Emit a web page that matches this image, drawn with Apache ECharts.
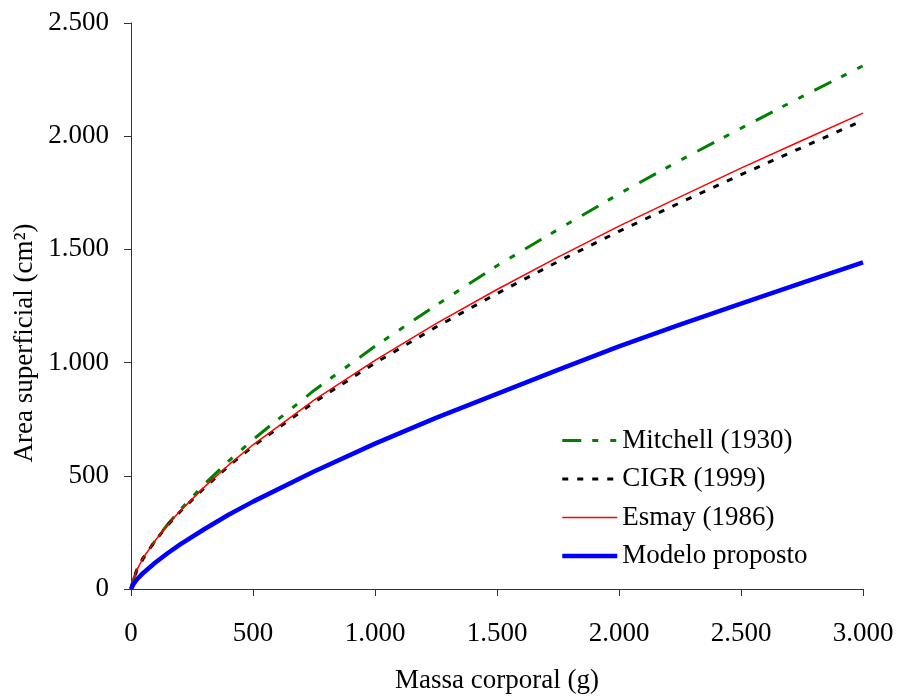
<!DOCTYPE html>
<html>
<head>
<meta charset="utf-8">
<script src="https://cdn.jsdelivr.net/npm/echarts@6/dist/echarts.min.js"></script>
<style>
html,body{margin:0;padding:0;background:#fff;}
#chart{width:900px;height:699px;}
</style>
</head>
<body>
<div id="chart"></div>
<script>
// Body mass (g)
const mass = [0, 10, 25, 50, 100, 150, 200, 300, 400, 500, 750, 1000, 1250, 1500, 1750, 2000, 2250, 2500, 2750, 3000];
// Surface area (cm²)
const mitchell = [0, 42, 82, 133, 215, 285, 348, 462, 565, 660, 877, 1072, 1253, 1428, 1588, 1745, 1893, 2035, 2175, 2311];
const cigr     = [0, 46, 87, 138, 214, 281, 340, 446, 543, 631, 825, 998, 1157, 1305, 1446, 1580, 1706, 1830, 1950, 2070];
const esmay    = [0, 47, 87, 138, 215, 283, 343, 450, 548, 637, 834, 1010, 1172, 1323, 1466, 1603, 1732, 1859, 1981, 2102];
const modelo   = [0, 21, 43, 71, 117, 158, 196, 264, 328, 386, 519, 642, 756, 862, 968, 1072, 1168, 1260, 1352, 1443];
const xTicks = [0, 500, 1000, 1500, 2000, 2500, 3000];
const yTicks = [0, 500, 1000, 1500, 2000, 2500];
const seriesNames = ['Mitchell (1930)', 'CIGR (1999)', 'Esmay (1986)', 'Modelo proposto'];

function pairs(ys){ return mass.map((x,i)=>[x, ys[i]]); }
function fmt(v){ return String(v).replace(/\B(?=(\d{3})+(?!\d))/g, '.'); }

const FONT = 'Liberation Serif';
const styles = [
  {color:'#008000', width:3, type:[19,11,6,12,6,12]},
  {color:'#000000', width:3, type:[6,9]},
  {color:'#ff0000', width:1.5, type:'solid'},
  {color:'#0000ff', width:4.5, type:'solid'}
];
const chart = echarts.init(document.getElementById('chart'), null, {renderer:'canvas'});
chart.setOption({
  backgroundColor:'#ffffff',
  animation:false,
  textStyle:{fontFamily:FONT, color:'#000'},
  grid:{left:131, right:37, top:23, bottom:106, containLabel:false},
  xAxis:{
    type:'value', min:xTicks[0], max:xTicks[xTicks.length-1], interval:500,
    axisLine:{show:true, onZero:false, lineStyle:{color:'#333', width:1}},
    axisTick:{show:true, inside:false, length:7, lineStyle:{color:'#333'}},
    splitLine:{show:false},
    axisLabel:{fontFamily:FONT, fontSize:27, color:'#000', margin:31, formatter:fmt},
    name:'Massa corporal (g)', nameLocation:'middle', nameGap:78,
    nameTextStyle:{fontFamily:FONT, fontSize:27, color:'#000'}
  },
  yAxis:{
    type:'value', min:yTicks[0], max:yTicks[yTicks.length-1], interval:500,
    axisLine:{show:true, onZero:false, lineStyle:{color:'#333', width:1}},
    axisTick:{show:true, inside:false, length:7, lineStyle:{color:'#333'}},
    splitLine:{show:false},
    axisLabel:{fontFamily:FONT, fontSize:27, color:'#000', margin:22, formatter:fmt}
  },
  graphic:[{
    type:'text', x:25, y:343, rotation:Math.PI/2,
    style:{text:'Area superficial (cm²)', font:'27px "Liberation Serif"', fill:'#000', align:'center', verticalAlign:'middle'}
  }],
  legend:{
    orient:'vertical', left:560, top:427, padding:0, itemGap:11.5,
    itemWidth:55, itemHeight:14,
    itemStyle:{opacity:0},
    textStyle:{fontFamily:FONT, fontSize:27, color:'#000'},
    data:seriesNames.map((n,i)=>({name:n, lineStyle:{width:styles[i].width, type:styles[i].type}}))
  },
  series:seriesNames.map((n,i)=>({
    name:n, type:'line', data:pairs([mitchell,cigr,esmay,modelo][i]), symbol:'none', smooth:false,
    color:styles[i].color,
    lineStyle:{color:styles[i].color, width:styles[i].width, type:styles[i].type},
    itemStyle:{color:styles[i].color}, z:2+i
  }))
});
</script>
</body>
</html>
